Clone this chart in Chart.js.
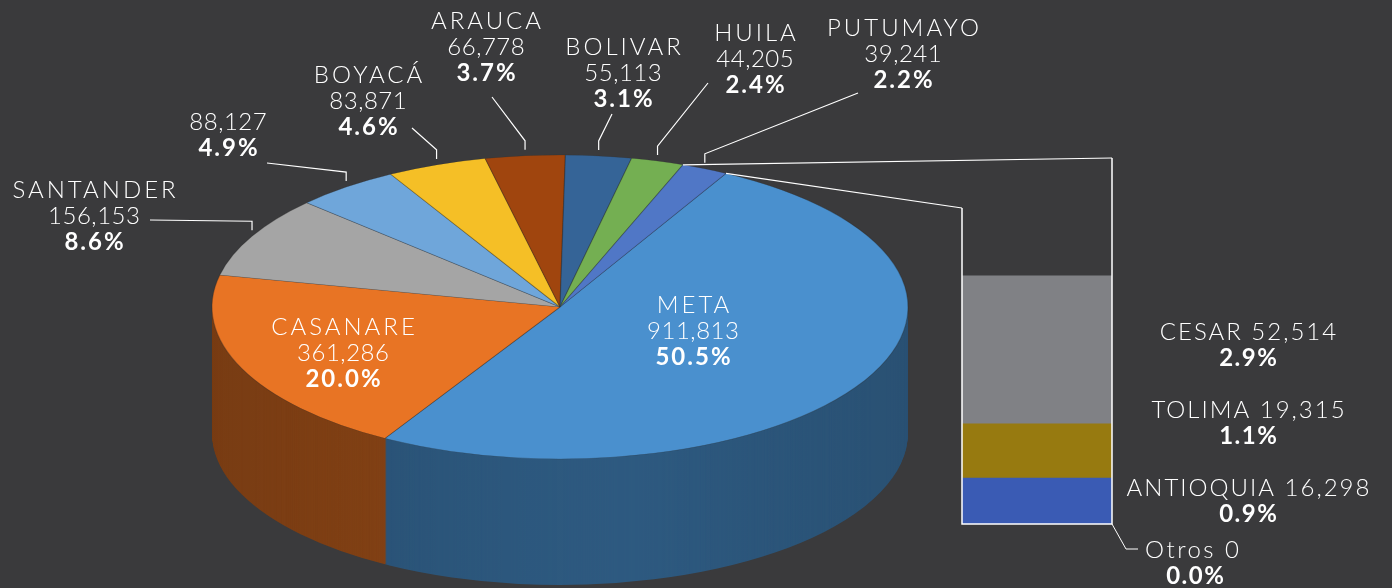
<!DOCTYPE html>
<html>
<head>
<meta charset="utf-8">
<script src="https://cdn.jsdelivr.net/npm/chart.js@4"></script>
<style>
  html, body { margin: 0; padding: 0; background: #3a3a3c; }
  #wrap { position: relative; width: 1392px; height: 588px; overflow: hidden; }
  canvas { position: absolute; }
</style>
</head>
<body>
<div id="wrap">
  <canvas id="pie" width="1392" height="588" style="left:0;top:0"></canvas>
  <canvas id="bar" width="492" height="438" style="left:900px;top:150px"></canvas>
</div>
<script>
// datos del pastel
const provincias = ['META', 'CASANARE', 'SANTANDER', '', 'BOYACÁ', 'ARAUCA', 'BOLIVAR', 'HUILA', 'PUTUMAYO'];
const produccion = [911813, 361286, 156153, 88127, 83871, 66778, 55113, 44205, 39241];
const coloresPie = ['#4a90ce', '#e87424', '#a5a5a5', '#6fa6da', '#f5bf26', '#a0450e', '#356497', '#74af52', '#5077c6'];
const coloresLado = ['#2e5a80', '#8a4516', '#666666', '#45688a', '#9a7716', '#642b09', '#213f5f', '#486e33', '#324b7c'];

// datos de la barra (de abajo hacia arriba)
const otrosNombres = ['Otros', 'ANTIOQUIA', 'TOLIMA', 'CESAR'];
const otrosValores = [0, 16298, 19315, 52514];
const coloresBarra = ['#3a5bb4', '#3a5bb4', '#977a10', '#808185'];
const barMax = 130000;

// posiciones de etiquetas (centro x, y de la primera línea, fin de la guía)
const etiquetas = [
  { x: 693, y: 305 },
  { x: 343, y: 327 },
  { x: 94, y: 190, lx: 150, ly: 220 },
  { x: 228, y: 122, lx: 267, ly: 163 },
  { x: 368, y: 75, lx: 412, ly: 128 },
  { x: 486, y: 21, lx: 492, ly: 97 },
  { x: 623, y: 47, lx: 612, ly: 114 },
  { x: 755, y: 33, lx: 708, ly: 83 },
  { x: 903, y: 28, lx: 858, ly: 93 }
];

const CX = 560, CY = 307, RX = 348, RY = 152, DEPTH = 126;
const BAR_LEFT = 900, BAR_TOP = 150;
const LINE_H = 26;
const FONT_L = '300 24px Lato';
const FONT_B = 'bold 24px Lato';
const total = produccion.reduce((a, b) => a + b, 0);

const fmt = v => v.toLocaleString('en-US');
const pct = v => (v / total * 100).toFixed(1) + '%';

// cada línea: [texto, negrita, espaciado]
function drawLines(ctx, x, y, lines) {
  ctx.fillStyle = '#fff';
  ctx.textAlign = 'center';
  ctx.textBaseline = 'middle';
  lines.forEach((ln, j) => {
    ctx.font = ln[1] ? FONT_B : FONT_L;
    ctx.letterSpacing = (ln[2] || 0) + 'px';
    ctx.fillText(ln[0], x + (ln[2] || 0) / 2, y + j * LINE_H);
  });
  ctx.letterSpacing = '0px';
}

function edge(arc, ang) {
  const s = RX / arc.outerRadius, t = RY / arc.outerRadius;
  return [CX + Math.cos(ang) * arc.outerRadius * s, CY + Math.sin(ang) * arc.outerRadius * t];
}

let barChart = null;

const barPlugin = {
  id: 'barPlugin',
  afterDraw(chart) {
    const ctx = chart.ctx;
    const area = chart.chartArea;
    ctx.save();
    ctx.strokeStyle = '#fff';
    ctx.lineWidth = 1.5;
    ctx.beginPath();
    ctx.moveTo(area.left, area.top + 50);
    ctx.lineTo(area.left, area.bottom);
    ctx.lineTo(area.right, area.bottom);
    ctx.lineTo(area.right, area.top);
    ctx.stroke();

    const tx = 348;
    let prev = Infinity;
    otrosNombres.forEach((n, i) => {
      const el = chart.getDatasetMeta(i).data[0];
      if (otrosValores[i] > 0) {
        let yc = Math.min((el.y + el.base) / 2, prev - 78);
        prev = yc;
        drawLines(ctx, tx, yc - LINE_H / 2, [[n + ' ' + fmt(otrosValores[i]), false, 2], [pct(otrosValores[i]), true, 1.5]]);
      } else {
        // etiqueta del valor cero, debajo de la barra
        ctx.beginPath();
        ctx.lineWidth = 1;
        ctx.moveTo(area.right, area.bottom);
        ctx.lineTo(area.right + 14, area.bottom + 25);
        ctx.lineTo(area.right + 26, area.bottom + 25);
        ctx.stroke();
        ctx.fillStyle = '#fff';
        ctx.textAlign = 'left';
        ctx.textBaseline = 'middle';
        ctx.font = FONT_L;
        ctx.letterSpacing = '2.5px';
        ctx.fillText(n + ' ' + fmt(otrosValores[i]), area.right + 33, area.bottom + 26);
        drawLines(ctx, area.right + 83, area.bottom + 26 + LINE_H, [[pct(otrosValores[i]), true, 1.5]]);
        prev = area.bottom + 60;
      }
    });
    ctx.restore();
  }
};

barChart = new Chart(document.getElementById('bar'), {
  type: 'bar',
  data: {
    labels: [''],
    datasets: otrosNombres.map((n, i) => ({
      label: n,
      data: [otrosValores[i]],
      backgroundColor: coloresBarra[i],
      borderWidth: 0,
      barPercentage: 1,
      categoryPercentage: 1
    }))
  },
  options: {
    responsive: false,
    animation: false,
    events: [],
    layout: { padding: { left: 62, right: 280, top: 8, bottom: 64 } },
    scales: {
      x: { display: false, stacked: true },
      y: { display: false, stacked: true, min: 0, max: barMax }
    },
    plugins: { legend: { display: false }, tooltip: { enabled: false } }
  },
  plugins: [barPlugin]
});

const pie3d = {
  id: 'pie3d',
  beforeDatasetsDraw(chart) {
    const ctx = chart.ctx;
    const arcs = chart.getDatasetMeta(0).data;
    const a0 = arcs[0];
    const s = RX / a0.outerRadius, t = RY / a0.outerRadius;
    // paredes laterales: la misma torta apilada hacia abajo en tono oscuro
    for (let k = DEPTH; k > 0; k--) {
      ctx.save();
      ctx.translate(CX, CY + k);
      ctx.scale(s, t);
      ctx.translate(-a0.x, -a0.y);
      arcs.forEach((arc, i) => {
        const o = arc.options;
        arc.options = Object.assign({}, o, { backgroundColor: coloresLado[i], borderWidth: 0 });
        arc.draw(ctx);
        arc.options = o;
      });
      ctx.restore();
    }
    // sombreado horizontal de las paredes
    ctx.save();
    ctx.globalCompositeOperation = 'source-atop';
    const g = ctx.createLinearGradient(CX - RX, 0, CX + RX, 0);
    g.addColorStop(0, 'rgba(0,0,0,0.13)');
    g.addColorStop(0.45, 'rgba(0,0,0,0.02)');
    g.addColorStop(0.6, 'rgba(0,0,0,0)');
    g.addColorStop(1, 'rgba(0,0,0,0.1)');
    ctx.fillStyle = g;
    ctx.fillRect(0, 0, chart.width, chart.height);
    ctx.restore();

    ctx.save();
    ctx.translate(CX, CY);
    ctx.scale(s, t);
    ctx.translate(-a0.x, -a0.y);
  },
  afterDatasetsDraw(chart) {
    const ctx = chart.ctx;
    ctx.restore();
    const arcs = chart.getDatasetMeta(0).data;

    ctx.save();
    ctx.strokeStyle = '#fff';
    ctx.lineWidth = 1.2;
    // conectores hacia la barra
    const last = arcs[arcs.length - 1];
    const area = barChart.chartArea;
    const p1 = edge(last, last.startAngle);
    const p2 = edge(last, last.endAngle);
    ctx.beginPath();
    ctx.moveTo(p1[0], p1[1]);
    ctx.lineTo(BAR_LEFT + area.right, BAR_TOP + area.top);
    ctx.moveTo(p2[0], p2[1]);
    ctx.lineTo(BAR_LEFT + area.left, BAR_TOP + area.top + 50);
    ctx.stroke();

    arcs.forEach((arc, i) => {
      const lab = etiquetas[i];
      const lines = [];
      if (provincias[i]) lines.push([provincias[i], false, 3]);
      lines.push([fmt(produccion[i]), false, 0.5]);
      lines.push([pct(produccion[i]), true, 2]);
      drawLines(ctx, lab.x, lab.y, lines);
      if (lab.lx !== undefined) {
        const e = edge(arc, (arc.startAngle + arc.endAngle) / 2);
        ctx.beginPath();
        ctx.lineWidth = 1.2;
        ctx.moveTo(e[0], e[1] - 6);
        ctx.lineTo(e[0], e[1] - 15);
        ctx.lineTo(lab.lx, lab.ly);
        ctx.stroke();
      }
    });
    ctx.restore();
  }
};

new Chart(document.getElementById('pie'), {
  type: 'pie',
  data: {
    labels: provincias,
    datasets: [{
      data: produccion,
      backgroundColor: coloresPie,
      borderColor: 'rgba(40,40,40,0.35)',
      borderWidth: 1,
      clip: false
    }]
  },
  options: {
    responsive: false,
    animation: false,
    events: [],
    rotation: 28.5,
    layout: { padding: 0 },
    plugins: { legend: { display: false }, tooltip: { enabled: false } }
  },
  plugins: [pie3d]
});
</script>
</body>
</html>
